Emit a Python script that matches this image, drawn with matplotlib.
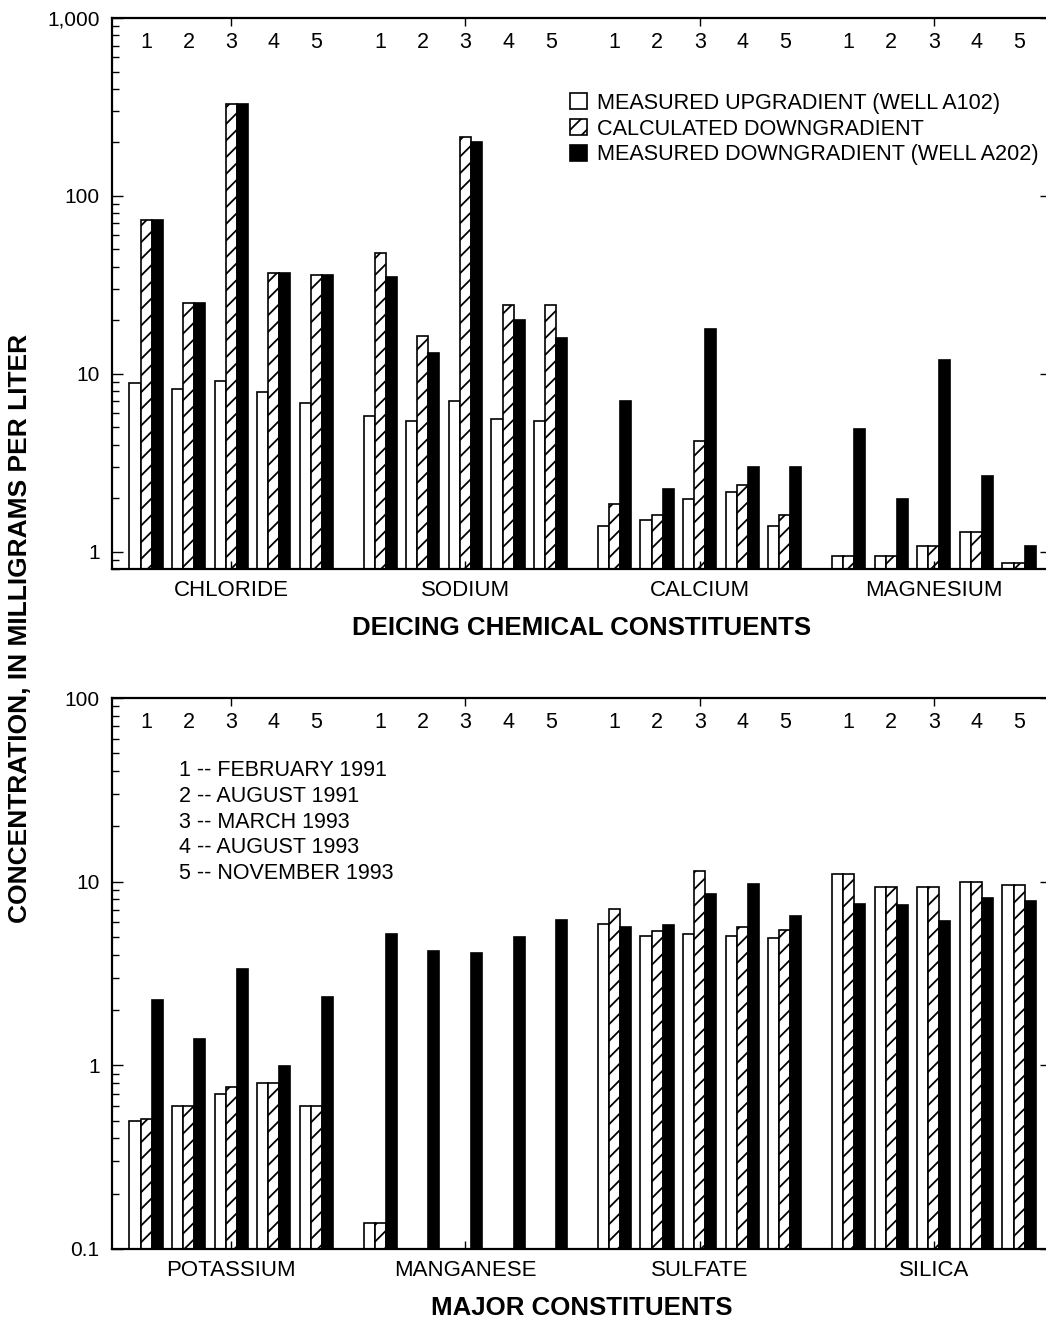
import matplotlib
matplotlib.use("Agg")
import matplotlib.pyplot as plt
import numpy as np

plt.rcParams['font.family'] = ['Liberation Sans', 'DejaVu Sans']
plt.rcParams['hatch.linewidth'] = 1.3

# sampling dates 1..5 for every constituent
dates = ["1", "2", "3", "4", "5"]
date_names = ["FEBRUARY 1991", "AUGUST 1991", "MARCH 1993", "AUGUST 1993", "NOVEMBER 1993"]

# deicing chemical constituents (mg/L)
deicing = ["CHLORIDE", "SODIUM", "CALCIUM", "MAGNESIUM"]
deice_up = [8.9, 8.2, 9.1, 7.9, 6.9,
            5.8, 5.4, 7.0, 5.6, 5.4,
            1.39, 1.50, 1.97, 2.18, 1.39,
            0.95, 0.95, 1.08, 1.29, 0.87]
deice_calc = [73, 25, 329, 37, 36,
              47.6, 16.3, 215, 24.4, 24.4,
              1.85, 1.61, 4.22, 2.38, 1.60,
              0.95, 0.95, 1.08, 1.29, 0.87]
deice_down = [73, 25, 329, 37, 36,
              35, 13.1, 200, 20, 16,
              7.0, 2.26, 17.9, 2.98, 2.98,
              4.9, 1.97, 12.0, 2.65, 1.08]

# major constituents (mg/L)
major = ["POTASSIUM", "MANGANESE", "SULFATE", "SILICA"]
major_up = [0.50, 0.60, 0.70, 0.80, 0.60,
            0.139, np.nan, np.nan, np.nan, np.nan,
            5.87, 5.08, 5.18, 5.08, 4.96,
            10.96, 9.4, 9.3, 9.95, 9.62]
major_calc = [0.51, 0.60, 0.76, 0.80, 0.60,
              0.139, np.nan, np.nan, np.nan, np.nan,
              7.11, 5.41, 11.4, 5.64, 5.48,
              10.96, 9.4, 9.3, 9.95, 9.62]
major_down = [2.26, 1.39, 3.36, 0.99, 2.37,
              5.18, 4.17, 4.07, 4.98, 6.15,
              5.67, 5.84, 8.57, 9.7, 6.52,
              7.6, 7.43, 6.12, 8.1, 7.83]

series_names = ["MEASURED UPGRADIENT (WELL A102)", "CALCULATED DOWNGRADIENT",
                "MEASURED DOWNGRADIENT (WELL A202)"]

W, H = 1046, 1319
fig = plt.figure(figsize=(W / 100, H / 100), dpi=100)

ax_left = 112 / W
ax_w = (1051 - 112) / W
ax_h = 551 / H
ax1 = fig.add_axes([ax_left, 1 - 569 / H, ax_w, ax_h])
ax2 = fig.add_axes([ax_left, 1 - 1249 / H, ax_w, ax_h])

bw = 0.26
gap = 5.5
x = np.array([g * gap + i for g in range(4) for i in range(5)], dtype=float)
centers = [g * gap + 2 for g in range(4)]


def draw(ax, up, calc, down, cats, ylim, yticks, ylabels, xlabel):
    base = 1e-3
    ax.bar(x - bw, np.array(up) - base, bw, bottom=base, color="white",
           edgecolor="black", linewidth=1.2, label=series_names[0])
    ax.bar(x, np.array(calc) - base, bw, bottom=base, color="white", hatch="//",
           edgecolor="black", linewidth=1.2, label=series_names[1])
    ax.bar(x + bw, np.array(down) - base, bw, bottom=base, color="black",
           edgecolor="black", linewidth=1.2, label=series_names[2])
    ax.set_yscale("log")
    ax.set_ylim(*ylim)
    ax.set_xlim(-0.8, 21.25)
    ax.set_yticks(yticks)
    ax.set_yticklabels(ylabels)
    ax.set_xticks(centers)
    ax.set_xticklabels(cats)
    ax.tick_params(axis="x", direction="in", top=True, length=6, width=1,
                   labelsize=16, pad=8)
    ax.tick_params(axis="y", which="major", direction="in", right=True,
                   length=8, width=1, labelsize=15, pad=9)
    ax.tick_params(axis="y", which="minor", direction="in", length=5, width=1)
    for s in ax.spines.values():
        s.set_linewidth(1.6)
    for xi, d in zip(x, dates * 4):
        ax.text(xi, 0.956, d, transform=ax.get_xaxis_transform(),
                ha="center", va="center", fontsize=15.5)
    ax.set_xlabel(xlabel, fontsize=18.6, fontweight="bold", labelpad=11)


draw(ax1, deice_up, deice_calc, deice_down, deicing, (0.8, 1000),
     [1, 10, 100, 1000], ["1", "10", "100", "1,000"],
     "DEICING CHEMICAL CONSTITUENTS")
draw(ax2, major_up, major_calc, major_down, major, (0.1, 100),
     [0.1, 1, 10, 100], ["0.1", "1", "10", "100"],
     "MAJOR CONSTITUENTS")

leg = ax1.legend(loc="upper left", bbox_to_anchor=(0.478, 0.88), frameon=False,
                 fontsize=15.6, handlelength=0.8, handleheight=0.75,
                 handletextpad=0.45, labelspacing=0.22, borderaxespad=0)

for k, (d, nm) in enumerate(zip(dates, date_names)):
    ax2.text(0.071, 0.868 - k * 0.0467, d + " -- " + nm, transform=ax2.transAxes,
             ha="left", va="center", fontsize=15.5)

fig.text(0.019, 1 - 628 / H, "CONCENTRATION, IN MILLIGRAMS PER LITER",
         rotation=90, ha="center", va="center", fontsize=19, fontweight="bold")

fig.savefig("out.png", dpi=100)
